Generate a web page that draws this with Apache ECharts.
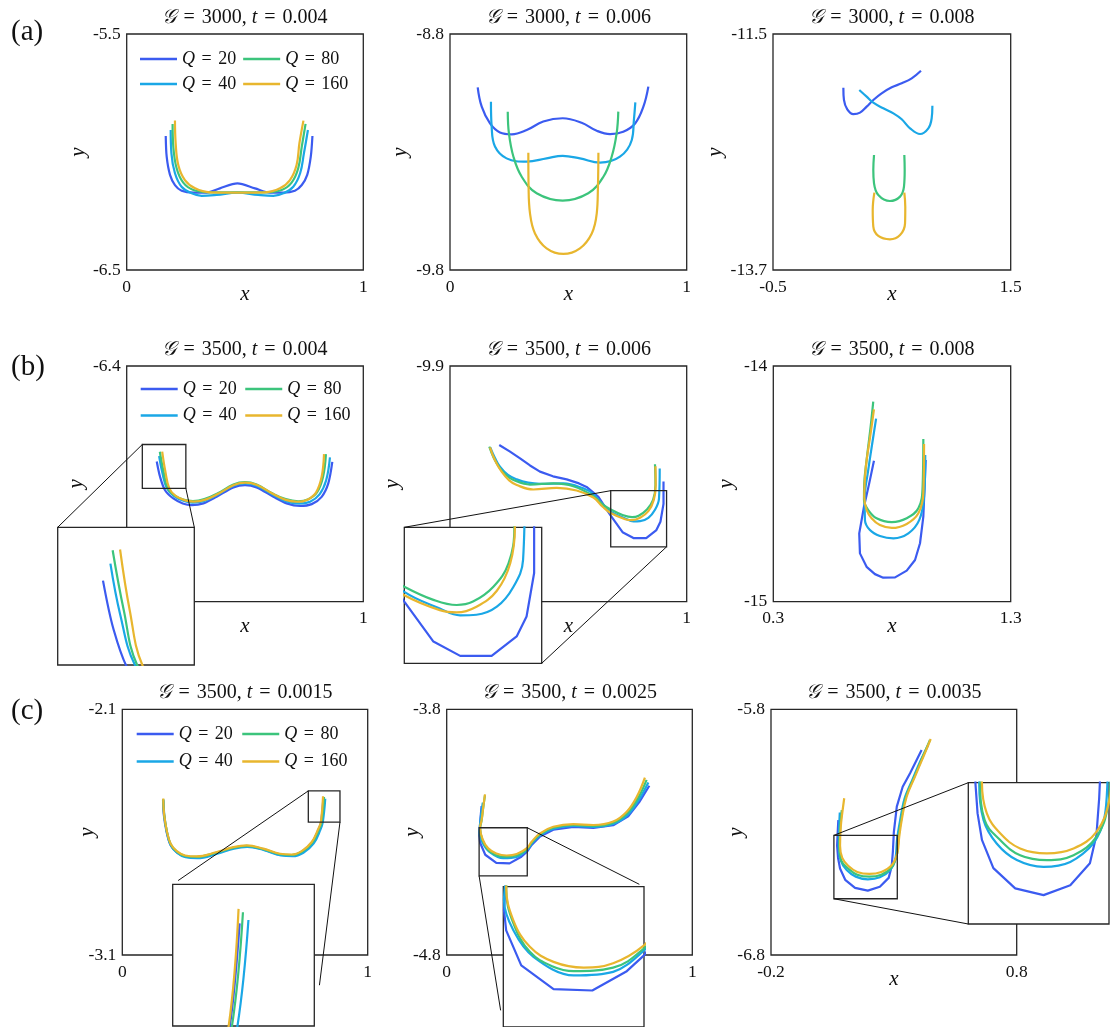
<!DOCTYPE html>
<html><head><meta charset="utf-8">
<script src="https://cdn.jsdelivr.net/npm/echarts@6/dist/echarts.min.js"></script>
<style>html,body{margin:0;padding:0;background:#fff}#c{width:1110px;height:1027px}</style>
</head><body><div id="c"></div>
<script>
// ---------- names / colors ----------
const seriesNames = ['Q = 20', 'Q = 40', 'Q = 80', 'Q = 160'];
const legendOrder = ['Q = 20', 'Q = 80', 'Q = 40', 'Q = 160'];
const lineColors = ['#3B5BF0', '#1AA7E6', '#3CC47C', '#E8B62E'];

// ---------- titles ----------
const titleG = ['3000', '3000', '3000', '3500', '3500', '3500', '3500', '3500', '3500'];
const titleT = ['0.004', '0.006', '0.008', '0.004', '0.006', '0.008', '0.0015', '0.0025', '0.0035'];
const rowLabels = ['(a)', '(b)', '(c)'];

// ---------- tick labels (axis limits) ----------
const a1_xTicks = [0, 1],      a1_yTicks = [-6.5, -5.5];
const a2_xTicks = [0, 1],      a2_yTicks = [-9.8, -8.8];
const a3_xTicks = [-0.5, 1.5], a3_yTicks = [-13.7, -11.5];
const b1_xTicks = [0, 1],      b1_yTicks = [-7.4, -6.4];
const b2_xTicks = [0, 1],      b2_yTicks = [-10.9, -9.9];
const b3_xTicks = [0.3, 1.3],  b3_yTicks = [-15, -14];
const c1_xTicks = [0, 1],      c1_yTicks = [-3.1, -2.1];
const c2_xTicks = [0, 1],      c2_yTicks = [-4.8, -3.8];
const c3_xTicks = [-0.2, 0.8], c3_yTicks = [-6.8, -5.8];

// ---------- zoom (inset) ranges ----------
const b1_zoomX = [0.066, 0.25],  b1_zoomY = [-6.919, -6.733];
const b2_zoomX = [0.679, 0.915], b2_zoomY = [-10.643, -10.405], b2_rectY = [-10.667, -10.429];
const c1_zoomX = [0.758, 0.887], c1_zoomY = [-2.559, -2.432];
const c2_zoomX = [0.132, 0.328], c2_zoomY = [-4.478, -4.282];
const c3_zoomX = [0.056, 0.314], c3_zoomY = [-6.585, -6.355], c3_rectY = [-6.571, -6.313];

// ---------- curves ----------
const a1_Q20 = [[0.165,-5.932],[0.169,-6.02],[0.183,-6.097],[0.204,-6.14],[0.232,-6.164],[0.282,-6.172],[0.338,-6.172],[0.394,-6.154],[0.468,-6.133],[0.542,-6.154],[0.606,-6.172],[0.662,-6.172],[0.711,-6.164],[0.740,-6.14],[0.763,-6.097],[0.778,-6.02],[0.785,-5.932]];
const a1_Q40 = [[0.186,-5.907],[0.189,-6.006],[0.204,-6.09],[0.232,-6.147],[0.275,-6.175],[0.317,-6.186],[0.38,-6.182],[0.468,-6.172],[0.556,-6.182],[0.620,-6.186],[0.662,-6.175],[0.704,-6.147],[0.733,-6.09],[0.749,-6.006],[0.766,-5.907]];
const a1_Q80 = [[0.194,-5.881],[0.197,-5.977],[0.211,-6.069],[0.239,-6.13],[0.282,-6.161],[0.352,-6.171],[0.468,-6.171],[0.585,-6.171],[0.655,-6.161],[0.697,-6.13],[0.725,-6.069],[0.740,-5.977],[0.756,-5.881]];
const a1_Q160 = [[0.204,-5.867],[0.207,-5.963],[0.218,-6.055],[0.246,-6.119],[0.289,-6.154],[0.352,-6.171],[0.468,-6.172],[0.585,-6.171],[0.648,-6.154],[0.690,-6.119],[0.718,-6.055],[0.730,-5.963],[0.747,-5.867]];

const a2_Q20 = [[0.117,-9.026],[0.134,-9.108],[0.169,-9.179],[0.211,-9.217],[0.261,-9.225],[0.324,-9.207],[0.394,-9.171],[0.476,-9.157],[0.556,-9.176],[0.620,-9.21],[0.676,-9.224],[0.732,-9.214],[0.782,-9.179],[0.817,-9.108],[0.838,-9.023]];
const a2_Q40 = [[0.173,-9.087],[0.176,-9.193],[0.190,-9.277],[0.239,-9.327],[0.324,-9.341],[0.408,-9.327],[0.476,-9.316],[0.549,-9.327],[0.634,-9.345],[0.718,-9.32],[0.768,-9.249],[0.777,-9.164],[0.783,-9.09]];
const a2_Q80 = [[0.244,-9.129],[0.249,-9.221],[0.268,-9.32],[0.303,-9.405],[0.366,-9.475],[0.476,-9.506],[0.584,-9.475],[0.648,-9.405],[0.683,-9.32],[0.704,-9.221],[0.711,-9.129]];
const a2_Q160 = [[0.331,-9.303],[0.332,-9.447],[0.338,-9.56],[0.359,-9.645],[0.408,-9.708],[0.479,-9.732],[0.549,-9.708],[0.599,-9.645],[0.620,-9.56],[0.625,-9.447],[0.627,-9.303]];

const a3_Q20 = [[0.092,-12.0],[0.097,-12.115],[0.125,-12.202],[0.176,-12.246],[0.232,-12.233],[0.288,-12.177],[0.344,-12.115],[0.414,-12.053],[0.499,-11.997],[0.583,-11.96],[0.667,-11.913],[0.745,-11.842]];
const a3_Q40 = [[0.226,-12.022],[0.288,-12.084],[0.344,-12.14],[0.428,-12.193],[0.513,-12.24],[0.583,-12.295],[0.653,-12.379],[0.737,-12.432],[0.807,-12.379],[0.835,-12.286],[0.841,-12.168]];
const a3_Q80 = [[0.350,-12.628],[0.344,-12.768],[0.350,-12.892],[0.386,-13.001],[0.484,-13.057],[0.569,-13.016],[0.602,-12.923],[0.608,-12.768],[0.605,-12.628]];
const a3_Q160 = [[0.353,-12.979],[0.339,-13.141],[0.344,-13.296],[0.386,-13.383],[0.484,-13.414],[0.569,-13.374],[0.611,-13.265],[0.613,-13.11],[0.605,-12.979]];

const b1_Q20 = [[0.127,-6.805],[0.141,-6.87],[0.162,-6.927],[0.197,-6.962],[0.237,-6.983],[0.275,-6.99],[0.324,-6.983],[0.380,-6.955],[0.451,-6.915],[0.5,-6.905],[0.549,-6.915],[0.620,-6.955],[0.676,-6.983],[0.733,-6.994],[0.782,-6.986],[0.824,-6.955],[0.852,-6.898],[0.869,-6.807]];
const b1_Q40 = [[0.137,-6.782],[0.150,-6.85],[0.170,-6.919],[0.20,-6.952],[0.24,-6.972],[0.278,-6.98],[0.326,-6.974],[0.382,-6.947],[0.451,-6.908],[0.5,-6.898],[0.549,-6.908],[0.620,-6.947],[0.676,-6.975],[0.730,-6.984],[0.775,-6.976],[0.815,-6.945],[0.843,-6.885],[0.859,-6.788]];
const b1_Q80 = [[0.140,-6.764],[0.155,-6.845],[0.173,-6.919],[0.203,-6.95],[0.243,-6.968],[0.28,-6.973],[0.328,-6.965],[0.385,-6.94],[0.451,-6.903],[0.5,-6.893],[0.549,-6.903],[0.615,-6.94],[0.672,-6.965],[0.725,-6.974],[0.768,-6.965],[0.805,-6.935],[0.830,-6.87],[0.842,-6.774]];
const b1_Q160 = [[0.150,-6.763],[0.163,-6.845],[0.180,-6.919],[0.208,-6.952],[0.247,-6.970],[0.285,-6.975],[0.330,-6.968],[0.387,-6.942],[0.453,-6.905],[0.502,-6.895],[0.551,-6.905],[0.617,-6.942],[0.672,-6.968],[0.722,-6.976],[0.764,-6.967],[0.800,-6.937],[0.824,-6.87],[0.834,-6.774]];

const b2_Q20 = [[0.208,-10.235],[0.252,-10.262],[0.296,-10.292],[0.338,-10.322],[0.38,-10.348],[0.435,-10.368],[0.493,-10.381],[0.545,-10.398],[0.577,-10.413],[0.627,-10.455],[0.679,-10.535],[0.729,-10.605],[0.775,-10.630],[0.829,-10.630],[0.872,-10.596],[0.889,-10.561],[0.902,-10.485],[0.902,-10.39]];
const b2_Q40 = [[0.170,-10.245],[0.190,-10.29],[0.211,-10.327],[0.245,-10.362],[0.282,-10.381],[0.33,-10.395],[0.38,-10.4],[0.479,-10.398],[0.563,-10.419],[0.605,-10.443],[0.634,-10.476],[0.679,-10.518],[0.740,-10.547],[0.775,-10.559],[0.803,-10.558],[0.838,-10.544],[0.866,-10.51],[0.883,-10.462],[0.886,-10.335]];
const b2_Q80 = [[0.166,-10.242],[0.185,-10.29],[0.211,-10.334],[0.238,-10.364],[0.268,-10.384],[0.338,-10.403],[0.437,-10.398],[0.521,-10.41],[0.606,-10.452],[0.645,-10.487],[0.679,-10.509],[0.729,-10.532],[0.769,-10.541],[0.797,-10.535],[0.832,-10.509],[0.858,-10.468],[0.868,-10.405],[0.866,-10.317]];
const b2_Q160 = [[0.169,-10.245],[0.19,-10.3],[0.218,-10.348],[0.25,-10.385],[0.282,-10.405],[0.352,-10.424],[0.451,-10.417],[0.535,-10.428],[0.606,-10.458],[0.645,-10.497],[0.679,-10.524],[0.740,-10.55],[0.769,-10.554],[0.803,-10.544],[0.838,-10.516],[0.861,-10.468],[0.869,-10.405],[0.868,-10.325]];

const b3_Q20 = [[0.724,-14.402],[0.704,-14.498],[0.682,-14.597],[0.662,-14.71],[0.665,-14.795],[0.693,-14.852],[0.728,-14.883],[0.763,-14.898],[0.813,-14.897],[0.862,-14.868],[0.897,-14.823],[0.918,-14.752],[0.932,-14.639],[0.939,-14.47],[0.942,-14.399]];
const b3_Q40 = [[0.733,-14.223],[0.719,-14.314],[0.700,-14.441],[0.685,-14.56],[0.686,-14.653],[0.707,-14.696],[0.749,-14.721],[0.806,-14.731],[0.869,-14.71],[0.915,-14.653],[0.935,-14.554],[0.940,-14.378]];
const b3_Q80 = [[0.721,-14.151],[0.710,-14.257],[0.693,-14.399],[0.683,-14.50],[0.682,-14.569],[0.700,-14.611],[0.735,-14.646],[0.799,-14.662],[0.862,-14.646],[0.911,-14.604],[0.929,-14.512],[0.932,-14.31]];
const b3_Q160 = [[0.724,-14.184],[0.710,-14.286],[0.690,-14.427],[0.683,-14.554],[0.693,-14.611],[0.714,-14.646],[0.749,-14.675],[0.799,-14.687],[0.862,-14.67],[0.911,-14.625],[0.932,-14.54],[0.935,-14.331]];

const c1_Q20 = [[0.166,-2.468],[0.169,-2.528],[0.180,-2.597],[0.196,-2.651],[0.221,-2.681],[0.255,-2.699],[0.302,-2.703],[0.384,-2.685],[0.452,-2.664],[0.506,-2.657],[0.574,-2.67],[0.642,-2.692],[0.690,-2.695],[0.732,-2.681],[0.773,-2.643],[0.800,-2.589],[0.810,-2.559],[0.819,-2.467]];
const c1_Q40 = [[0.168,-2.47],[0.171,-2.53],[0.182,-2.6],[0.198,-2.654],[0.224,-2.684],[0.258,-2.702],[0.305,-2.706],[0.387,-2.688],[0.455,-2.667],[0.509,-2.66],[0.578,-2.673],[0.646,-2.695],[0.694,-2.698],[0.738,-2.684],[0.780,-2.646],[0.807,-2.591],[0.817,-2.559],[0.827,-2.464]];
const c1_Q80 = [[0.167,-2.465],[0.170,-2.526],[0.181,-2.595],[0.197,-2.649],[0.222,-2.679],[0.256,-2.697],[0.303,-2.701],[0.385,-2.683],[0.453,-2.663],[0.507,-2.656],[0.575,-2.669],[0.643,-2.69],[0.690,-2.693],[0.733,-2.679],[0.775,-2.641],[0.802,-2.587],[0.812,-2.559],[0.822,-2.457]];
const c1_Q160 = [[0.167,-2.463],[0.170,-2.524],[0.181,-2.593],[0.197,-2.647],[0.222,-2.677],[0.256,-2.695],[0.303,-2.699],[0.385,-2.681],[0.453,-2.661],[0.507,-2.654],[0.575,-2.667],[0.643,-2.688],[0.690,-2.691],[0.731,-2.677],[0.772,-2.64],[0.799,-2.586],[0.809,-2.559],[0.818,-2.454]];

const c2_Q20 = [[0.142,-4.194],[0.137,-4.25],[0.133,-4.315],[0.136,-4.343],[0.157,-4.392],[0.202,-4.425],[0.256,-4.427],[0.304,-4.4],[0.328,-4.378],[0.346,-4.352],[0.38,-4.318],[0.434,-4.29],[0.516,-4.279],[0.597,-4.283],[0.678,-4.272],[0.739,-4.236],[0.784,-4.178],[0.825,-4.111]];
const c2_Q40 = [[0.147,-4.18],[0.140,-4.23],[0.135,-4.275],[0.133,-4.301],[0.146,-4.343],[0.174,-4.38],[0.23,-4.406],[0.285,-4.401],[0.328,-4.371],[0.346,-4.347],[0.38,-4.313],[0.434,-4.286],[0.516,-4.275],[0.597,-4.279],[0.678,-4.267],[0.737,-4.23],[0.781,-4.171],[0.821,-4.098]];
const c2_Q80 = [[0.156,-4.148],[0.149,-4.198],[0.142,-4.253],[0.136,-4.286],[0.146,-4.333],[0.169,-4.373],[0.2,-4.393],[0.23,-4.4],[0.285,-4.395],[0.328,-4.368],[0.346,-4.343],[0.38,-4.309],[0.434,-4.282],[0.516,-4.271],[0.597,-4.275],[0.678,-4.262],[0.735,-4.223],[0.778,-4.163],[0.814,-4.087]];
const c2_Q160 = [[0.156,-4.146],[0.149,-4.196],[0.142,-4.251],[0.136,-4.282],[0.146,-4.329],[0.169,-4.366],[0.202,-4.387],[0.244,-4.395],[0.285,-4.389],[0.328,-4.364],[0.346,-4.339],[0.38,-4.305],[0.434,-4.278],[0.516,-4.267],[0.597,-4.271],[0.678,-4.257],[0.733,-4.217],[0.774,-4.156],[0.807,-4.078]];

const c3_Q20 = [[0.074,-6.251],[0.071,-6.31],[0.069,-6.355],[0.073,-6.405],[0.081,-6.448],[0.102,-6.494],[0.142,-6.527],[0.194,-6.538],[0.243,-6.522],[0.279,-6.486],[0.291,-6.44],[0.296,-6.38],[0.300,-6.3],[0.312,-6.196],[0.336,-6.115],[0.366,-6.06],[0.413,-5.966]];
const c3_Q40 = [[0.080,-6.22],[0.077,-6.29],[0.076,-6.355],[0.084,-6.416],[0.108,-6.454],[0.145,-6.481],[0.194,-6.492],[0.243,-6.484],[0.285,-6.454],[0.306,-6.41],[0.313,-6.33],[0.324,-6.26],[0.343,-6.165],[0.376,-6.085],[0.408,-6.01],[0.440,-5.945]];
const c3_Q80 = [[0.088,-6.21],[0.082,-6.28],[0.078,-6.355],[0.086,-6.416],[0.114,-6.448],[0.151,-6.473],[0.2,-6.481],[0.249,-6.473],[0.291,-6.443],[0.312,-6.394],[0.319,-6.32],[0.329,-6.255],[0.348,-6.16],[0.382,-6.078],[0.416,-5.997],[0.447,-5.925]];
const c3_Q160 = [[0.098,-6.162],[0.090,-6.223],[0.084,-6.278],[0.081,-6.355],[0.090,-6.405],[0.114,-6.437],[0.151,-6.462],[0.200,-6.47],[0.249,-6.462],[0.291,-6.435],[0.314,-6.386],[0.322,-6.318],[0.332,-6.251],[0.352,-6.156],[0.386,-6.074],[0.420,-5.993],[0.450,-5.921]];

// ---------- layout (positions / styles only) ----------
const SERIF = "'Liberation Serif','DejaVu Serif',serif";
const INK = '#262626';
const TXT = '#111';
const panels = [
  {grid:[126.7,34,236.6,236],   xt:a1_xTicks, yt:a1_yTicks, d:[a1_Q20,a1_Q40,a1_Q80,a1_Q160], yGap:38, sm:[0.3,0.4,0.4,0.4]},
  {grid:[450,34,236.7,236],     xt:a2_xTicks, yt:a2_yTicks, d:[a2_Q20,a2_Q40,a2_Q80,a2_Q160], yGap:39, sm:[0.4,0.4,0.4,0.4]},
  {grid:[773,34,237.7,236],     xt:a3_xTicks, yt:a3_yTicks, d:[a3_Q20,a3_Q40,a3_Q80,a3_Q160], yGap:47, sm:[0.4,0.4,0.4,0.4]},
  {grid:[126.7,366,236.6,235.7],xt:b1_xTicks, yt:b1_yTicks, d:[b1_Q20,b1_Q40,b1_Q80,b1_Q160], yGap:40, sm:[0.3,0.4,0.4,0.4]},
  {grid:[450,366,236.7,235.7],  xt:b2_xTicks, yt:b2_yTicks, d:[b2_Q20,b2_Q40,b2_Q80,b2_Q160], yGap:47, sm:[0,0.4,0.4,0.4]},
  {grid:[773.3,366,237.4,235.7],xt:b3_xTicks, yt:b3_yTicks, d:[b3_Q20,b3_Q40,b3_Q80,b3_Q160], yGap:36, sm:[0,0.35,0.4,0.4]},
  {grid:[122.3,709.3,245.4,245.7],xt:c1_xTicks, yt:c1_yTicks, d:[c1_Q20,c1_Q40,c1_Q80,c1_Q160], yGap:24, sm:[0.3,0.4,0.4,0.4]},
  {grid:[446.7,709.3,245.6,245.7],xt:c2_xTicks, yt:c2_yTicks, d:[c2_Q20,c2_Q40,c2_Q80,c2_Q160], yGap:24, sm:[0,0.35,0.4,0.4]},
  {grid:[771,709.3,245.7,245.7],  xt:c3_xTicks, yt:c3_yTicks, d:[c3_Q20,c3_Q40,c3_Q80,c3_Q160], yGap:24, sm:[0,0.3,0.4,0.4]}
];
const insets = [
  {p:3, grid:[57.7,527.3,136.6,137.7], zx:b1_zoomX, zy:b1_zoomY, ry:b1_zoomY, links:[['tl','tl',1],['br','tr',1]]},
  {p:4, grid:[404.3,527.3,137.4,136],  zx:b2_zoomX, zy:b2_zoomY, ry:b2_rectY, links:[['tl','tl',1],['br','br',1]]},
  {p:6, grid:[172.7,884.3,141.6,141.7],zx:c1_zoomX, zy:c1_zoomY, ry:c1_zoomY, links:[['tl','tl',0.96],['br','br',0.8]]},
  {p:7, grid:[503.3,886.7,140.7,141],  zx:c2_zoomX, zy:c2_zoomY, ry:c2_zoomY, links:[['tr','tr',0.96],['bl','bl',0.89]]},
  {p:8, grid:[968.3,782.7,140.7,141.3],zx:c3_zoomX, zy:c3_zoomY, ry:c3_rectY, links:[['tl','tl',1],['bl','bl',1]]}
];
const legendPos = [[140,50,14,7],[140.7,380,14,8.4],[136.7,725,14,9.4]]; // left, top, lineHeight, gap
const titleY = [18, 350, 693];
const rowLabelY = [32, 367, 711];

const grids = [], xAxes = [], yAxes = [], series = [];
panels.forEach((P, i) => {
  grids.push({left:P.grid[0], top:P.grid[1], width:P.grid[2], height:P.grid[3], show:true,
    borderColor:INK, borderWidth:1.3, backgroundColor:'#fff', z:0, containLabel:false});
  const lab = (vals) => ({customValues: vals, fontFamily:SERIF, fontSize:17.5, color:TXT,
    formatter: v => String(v)});
  const nameStyle = {fontFamily:SERIF, fontStyle:'italic', fontSize:21, color:TXT};
  xAxes.push({type:'value', gridIndex:i, min:P.xt[0], max:P.xt[1], z:1,
    axisLine:{show:false}, axisTick:{show:false}, splitLine:{show:false},
    axisLabel:Object.assign(lab(P.xt), {margin:8}),
    name:'x', nameLocation:'middle', nameGap:14, nameMoveOverlap:false, nameTextStyle:nameStyle});
  yAxes.push({type:'value', gridIndex:i, min:P.yt[0], max:P.yt[1], z:1,
    axisLine:{show:false}, axisTick:{show:false}, splitLine:{show:false},
    axisLabel:Object.assign(lab(P.yt), {margin:6}),
    name:'y', nameLocation:'middle', nameGap:P.yGap, nameRotate:90, nameMoveOverlap:false,
    nameTextStyle:nameStyle});
  P.d.forEach((arr, q) => {
    series.push({type:'line', name:seriesNames[q], xAxisIndex:i, yAxisIndex:i, data:arr,
      symbol:'none', showSymbol:false, smooth:P.sm[q], z:2, animation:false,
      lineStyle:{color:lineColors[q], width:2.2}, itemStyle:{color:lineColors[q]}});
  });
});
insets.forEach((I, j) => {
  const gi = panels.length + j;
  grids.push({left:I.grid[0], top:I.grid[1], width:I.grid[2], height:I.grid[3], show:true,
    borderColor:INK, borderWidth:1.3, backgroundColor:'#fff', z:10, containLabel:false});
  xAxes.push({type:'value', gridIndex:gi, min:I.zx[0], max:I.zx[1], show:false, z:10});
  yAxes.push({type:'value', gridIndex:gi, min:I.zy[0], max:I.zy[1], show:false, z:10});
  const P = panels[I.p];
  P.d.forEach((arr, q) => {
    series.push({type:'line', name:seriesNames[q], xAxisIndex:gi, yAxisIndex:gi, data:arr,
      symbol:'none', showSymbol:false, smooth:P.sm[q], z:11, animation:false, clip:true,
      lineStyle:{color:lineColors[q], width:2.2}, itemStyle:{color:lineColors[q]}});
  });
});

const legends = legendPos.map(L => ({
  left:L[0], top:L[1], width:240, orient:'horizontal', padding:0, itemGap:L[3],
  itemWidth:37, itemHeight:2.5, icon:'rect', data:legendOrder, selectedMode:false, z:5,
  formatter: n => '{i|Q}{e|=}' + n.split('= ')[1],
  textStyle:{fontFamily:SERIF, fontSize:18, color:TXT, lineHeight:L[2],
    rich:{i:{fontFamily:SERIF, fontStyle:'italic', fontSize:18, color:TXT, lineHeight:L[2]},
          e:{fontFamily:SERIF, fontSize:18, color:TXT, lineHeight:L[2], padding:[0,6.5,0,6.5]}}}
}));

const graphics = [];
panels.forEach((P, i) => {
  graphics.push({type:'text', z:20, style:{
    text:'{g|𝒢}{e|=}' + titleG[i] + ', {i|t}{e|=}' + titleT[i],
    x:P.grid[0] + P.grid[2]/2, y:titleY[Math.floor(i/3)], align:'center', verticalAlign:'middle',
    font:'20px ' + SERIF, fill:TXT,
    rich:{g:{fontFamily:SERIF, fontStyle:'italic', fontSize:20, fill:TXT},
          i:{fontFamily:SERIF, fontStyle:'italic', fontSize:20, fill:TXT},
          e:{fontFamily:SERIF, fontSize:20, fill:TXT, padding:[0,7,0,7]}}}});
});
rowLabels.forEach((t, r) => {
  graphics.push({type:'text', z:20, style:{text:t, x:11, y:rowLabelY[r], align:'left',
    verticalAlign:'middle', font:'29px ' + SERIF, fill:TXT}});
});

const chart = echarts.init(document.getElementById('c'), null, {renderer:'canvas'});
chart.setOption({animation:false, backgroundColor:'#fff', grid:grids, xAxis:xAxes, yAxis:yAxes,
  legend:legends, series:series, graphic:graphics});

// magnifier rectangles and connectors, placed through the axes' own scales
const extra = [];
insets.forEach((I, j) => {
  const gi = panels.length + j;
  const mp = v => chart.convertToPixel({xAxisIndex:I.p, yAxisIndex:I.p}, v);
  const ip = v => chart.convertToPixel({xAxisIndex:gi, yAxisIndex:gi}, v);
  const r = {tl:mp([I.zx[0], I.ry[1]]), tr:mp([I.zx[1], I.ry[1]]), bl:mp([I.zx[0], I.ry[0]]), br:mp([I.zx[1], I.ry[0]])};
  const s = {tl:ip([I.zx[0], I.zy[1]]), tr:ip([I.zx[1], I.zy[1]]), bl:ip([I.zx[0], I.zy[0]]), br:ip([I.zx[1], I.zy[0]])};
  extra.push({type:'rect', z:15, shape:{x:r.tl[0], y:r.tl[1], width:r.br[0]-r.tl[0], height:r.br[1]-r.tl[1]},
    style:{fill:null, stroke:INK, lineWidth:1.3}});
  I.links.forEach(L => {
    const a = r[L[0]], b = s[L[1]], f = L[2];
    extra.push({type:'line', z:15, shape:{x1:a[0], y1:a[1], x2:a[0] + (b[0]-a[0])*f, y2:a[1] + (b[1]-a[1])*f},
      style:{stroke:'#111', lineWidth:1}});
  });
});
chart.setOption({graphic: graphics.concat(extra)});
</script></body></html>
